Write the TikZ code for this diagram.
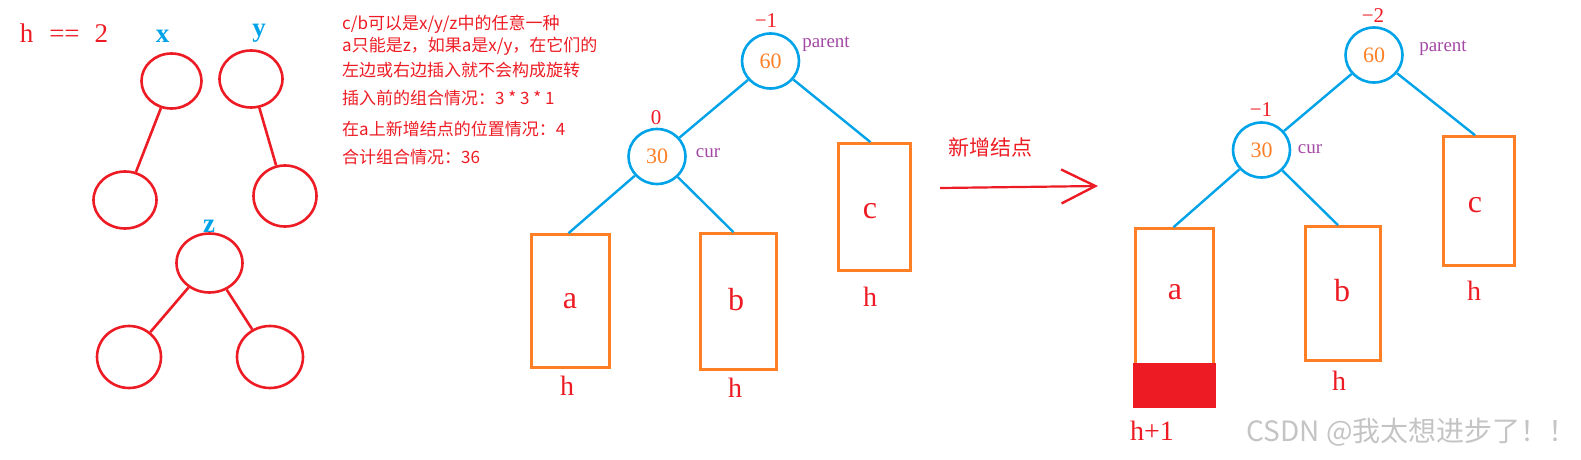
\documentclass[tikz,border=0pt]{standalone}
\usepackage{fontspec}
\setmainfont{Liberation Serif}
\newfontfamily\cjk{Noto Sans CJK SC}
\usetikzlibrary{shapes.geometric,arrows.meta}
\definecolor{myred}{RGB}{237,28,36}
\definecolor{myblue}{RGB}{0,162,232}
\definecolor{myorange}{RGB}{255,127,39}
\definecolor{mypurple}{RGB}{163,73,164}
\definecolor{wmgray}{RGB}{196,196,196}
\begin{document}
\begin{tikzpicture}[x=1pt,y=-1pt,
  redc/.style={ellipse,draw=myred,line width=2.6pt,inner sep=0pt},
  redl/.style={draw=myred,line width=2.6pt},
  bluec/.style={ellipse,draw=myblue,line width=2.6pt,inner sep=0pt,minimum width=57pt,minimum height=55pt,text=myorange,font=\fontsize{22}{24}\selectfont},
  bluel/.style={draw=myblue,line width=2.4pt},
  subbox/.style={rectangle,draw=myorange,line width=2.6pt,inner sep=0pt},
  lbl/.style={text=myred,font=\fontsize{28}{30}\selectfont,inner sep=0pt},
  big/.style={text=myred,font=\fontsize{32}{34}\selectfont,inner sep=0pt},
  num/.style={text=myred,font=\fontsize{21}{23}\selectfont,inner sep=0pt},
  ptr/.style={text=mypurple,font=\fontsize{19}{21}\selectfont,inner sep=0pt},
  xyz/.style={text=myblue,font=\bfseries\fontsize{27}{29}\selectfont,inner sep=0pt,anchor=base},
  note/.style={text=myred,font=\cjk\fontsize{17}{19}\selectfont,inner sep=0pt,anchor=west}
]
\useasboundingbox (0,0) rectangle (1581,460);

% ---------- h == 2 and the three red trees ----------
\node[lbl,font=\fontsize{27}{29}\selectfont] (hh) at (64,33) {h\hspace{16pt}==\hspace{15pt}2};
\node[xyz] (lx) at (162.5,42) {x};
\node[xyz] (ly) at (259,37) {y};
\node[xyz] (lz) at (209,232) {z};

\node[redc,minimum width=60pt,minimum height=55pt] (x1) at (171.5,81) {};
\node[redc,minimum width=63pt,minimum height=57pt] (x2) at (125,200) {};
\node[redc,minimum width=63pt,minimum height=57pt] (y1) at (251,79) {};
\node[redc,minimum width=63pt,minimum height=61pt] (y2) at (285,196) {};
\node[redc,minimum width=66pt,minimum height=59pt] (z1) at (209.5,263) {};
\node[redc,minimum width=64pt,minimum height=62pt] (z2) at (129,357) {};
\node[redc,minimum width=66pt,minimum height=62pt] (z3) at (270,357) {};
\draw[redl] (x1) -- (x2);
\draw[redl] (y1) -- (y2);
\draw[redl] (z1) -- (z2);
\draw[redl] (z1) -- (z3);

% ---------- notes ----------
\node[note] (t1) at (342,24) {c/b可以是x/y/z中的任意一种};
\node[note] (t2) at (342,46) {a只能是z，如果a是x/y，在它们的};
\node[note] (t3) at (342,70) {左边或右边插入就不会构成旋转};
\node[note] (t4) at (342,98) {插入前的组合情况：3 * 3 * 1};
\node[note] (t5) at (342,129) {在a上新增结点的位置情况：4};
\node[note] (t6) at (342,157) {合计组合情况：36};

% ---------- left AVL tree ----------
\node[bluec] (p1) at (770.5,61) {60};
\node[bluec] (c1) at (657,156.5) {30};
\node[num] (bp1) at (766,21) {−1};
\node[num] (bc1) at (656,117.5) {0};
\node[ptr] (np1) at (826,44) {parent};
\node[ptr] (nc1) at (708,153) {cur};
\node[subbox,minimum width=78pt,minimum height=133pt] (a1) at (570.5,301) {};
\node[subbox,minimum width=76pt,minimum height=136pt] (b1) at (738.5,301.5) {};
\node[subbox,minimum width=72pt,minimum height=127pt] (k1) at (874.5,207) {};
\node[big] (la1) at (570,301) {a};
\node[big] (lb1) at (736,300) {b};
\node[big] (lk1) at (870,211) {c};
\node[lbl] (ha1) at (567,386) {h};
\node[lbl] (hb1) at (735,388) {h};
\node[lbl] (hk1) at (870,297) {h};
\draw[bluel] (p1) -- (c1);
\draw[bluel] (p1) -- ([xshift=-4pt]k1.north);
\draw[bluel] (c1) -- ([xshift=-2pt]a1.north);
\draw[bluel] (c1) -- ([xshift=-5pt]b1.north);

% ---------- arrow ----------
\coordinate (as) at (940,188);
\coordinate (ae) at (1098,186);
\draw[myred,line width=2.2pt,-{Straight Barb[length=34pt,width=34pt,line width=2.4pt]}] (as) -- (ae);
\node[text=myred,font=\cjk\fontsize{21}{23}\selectfont,inner sep=0pt] (newn) at (990,147) {新增结点};

% ---------- right AVL tree ----------
\node[bluec] (p2) at (1374,55) {60};
\node[bluec] (c2) at (1261.5,150) {30};
\node[num] (bp2) at (1373,16) {−2};
\node[num] (bc2) at (1261,110) {−1};
\node[ptr] (np2) at (1443,48) {parent};
\node[ptr] (nc2) at (1310,149) {cur};
\node[subbox,minimum width=78pt,minimum height=177pt] (a2) at (1174.5,317) {};
\fill[myred] (1132.7,363) rectangle (1216.3,408.3);
\node[subbox,minimum width=75pt,minimum height=134pt] (b2) at (1343,293.5) {};
\node[subbox,minimum width=71pt,minimum height=129pt] (k2) at (1479,201) {};
\node[big] (la2) at (1175,292) {a};
\node[big] (lb2) at (1342,291) {b};
\node[big] (lk2) at (1475,205) {c};
\node[lbl] (ha2) at (1152,431) {h+1};
\node[lbl] (hb2) at (1339,381) {h};
\node[lbl] (hk2) at (1474,291) {h};
\draw[bluel] (p2) -- ([xshift=-4pt]k2.north);
\draw[bluel] (p2) -- (c2);
\draw[bluel] (c2) -- ([xshift=-1pt]a2.north);
\draw[bluel] (c2) -- ([xshift=-5pt]b2.north);

% ---------- watermark ----------
\node[text=wmgray,font=\cjk\fontsize{28}{30}\selectfont,inner sep=0pt,anchor=east] (wm) at (1577,432) {CSDN @我太想进步了！！};
\end{tikzpicture}
\end{document}
